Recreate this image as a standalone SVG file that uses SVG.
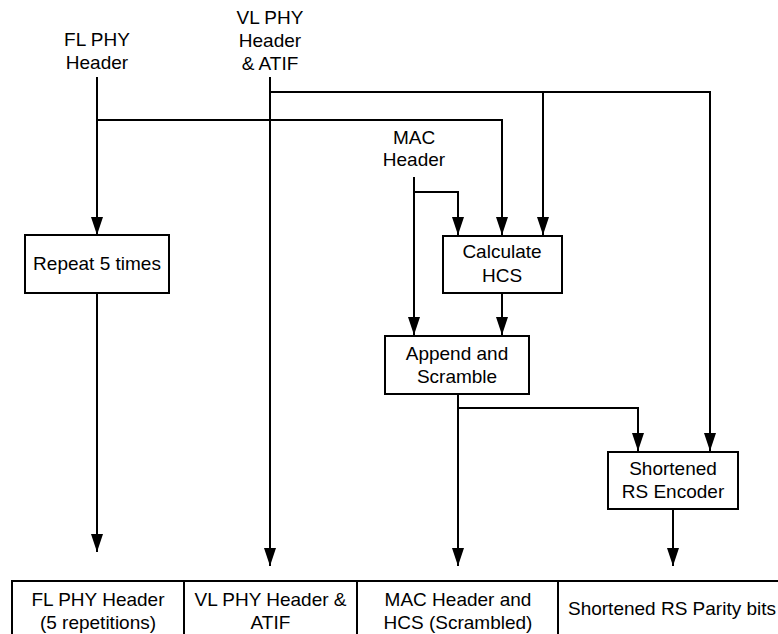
<svg xmlns="http://www.w3.org/2000/svg" width="778" height="634" viewBox="0 0 778 634">
  <style>
    text { font-family: "Liberation Sans", Arial, sans-serif; font-size: 19px; fill: #000; text-anchor: middle; }
    .box { fill: #fff; stroke: #000; stroke-width: 2; }
    .wire { fill: none; stroke: #000; stroke-width: 2; }
    .arrow { fill: none; stroke: #000; stroke-width: 2; marker-end: url(#head); }
  </style>
  <defs>
    <marker id="head" markerUnits="userSpaceOnUse" markerWidth="18" markerHeight="12" refX="18" refY="6" orient="auto">
      <path d="M0,0 L18,6 L0,12 z" fill="#000"/>
    </marker>
  </defs>
  <rect width="778" height="634" fill="#fff"/>

  <!-- input labels -->
  <g id="fl-phy-header">
    <text x="97" y="46">FL PHY</text>
    <text x="97" y="69">Header</text>
  </g>
  <g id="vl-phy-header">
    <text x="270" y="24">VL PHY</text>
    <text x="270" y="47">Header</text>
    <text x="270" y="70">&amp; ATIF</text>
  </g>
  <g id="mac-header">
    <text x="414" y="144">MAC</text>
    <text x="414" y="166">Header</text>
  </g>

  <!-- connectors -->
  <g id="connectors">
    <!-- FL PHY header -->
    <path class="arrow" d="M97,77 V235"/>
    <path class="arrow" d="M97,120 H502 V235"/>
    <path class="arrow" d="M97,293 V552"/>
    <!-- VL PHY header & ATIF -->
    <path class="arrow" d="M270,77 V566"/>
    <path class="arrow" d="M270,92 H543 V235"/>
    <path class="arrow" d="M543,92 H710 V451"/>
    <!-- MAC header -->
    <path class="arrow" d="M414,177 V335"/>
    <path class="arrow" d="M414,192 H458 V235"/>
    <!-- HCS to append -->
    <path class="arrow" d="M502,293 V335"/>
    <!-- scrambled output -->
    <path class="arrow" d="M458,394 V566"/>
    <path class="arrow" d="M458,408 H638 V451"/>
    <!-- parity output -->
    <path class="arrow" d="M673,509 V566"/>
  </g>

  <!-- processing blocks -->
  <g id="repeat">
    <rect class="box" x="25" y="235" width="144" height="58"/>
    <text x="97" y="270">Repeat 5 times</text>
  </g>
  <g id="calculate-hcs">
    <rect class="box" x="443" y="236" width="119" height="57"/>
    <text x="502" y="258">Calculate</text>
    <text x="502" y="282">HCS</text>
  </g>
  <g id="append-scramble">
    <rect class="box" x="385" y="336" width="144" height="58"/>
    <text x="457" y="360">Append and</text>
    <text x="457" y="383">Scramble</text>
  </g>
  <g id="rs-encoder">
    <rect class="box" x="608" y="452" width="130" height="57"/>
    <text x="673" y="475">Shortened</text>
    <text x="673" y="498">RS Encoder</text>
  </g>

  <!-- output frame -->
  <g id="output-frame">
    <path class="wire" d="M780,581 H12 V640"/>
    <path class="wire" d="M184,581 V640 M357,581 V640 M558,581 V640"/>
    <text x="98" y="606">FL PHY Header</text>
    <text x="98" y="629">(5 repetitions)</text>
    <text x="270.5" y="606">VL PHY Header &amp;</text>
    <text x="270.5" y="629">ATIF</text>
    <text x="458" y="606">MAC Header and</text>
    <text x="458" y="629">HCS (Scrambled)</text>
    <text x="672" y="615">Shortened RS Parity bits</text>
  </g>
</svg>
